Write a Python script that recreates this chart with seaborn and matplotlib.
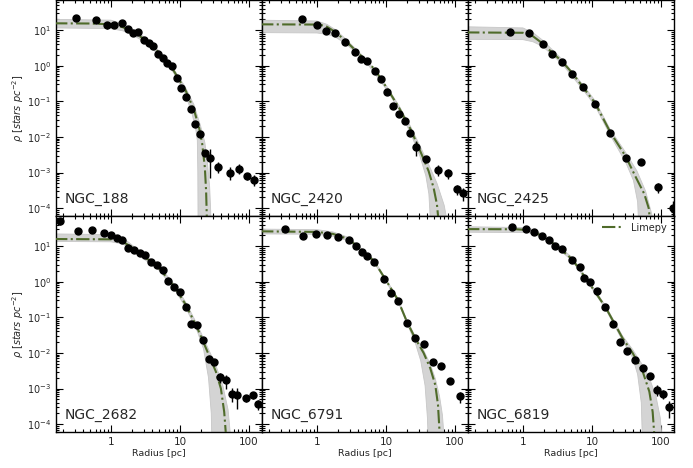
import numpy as np
import matplotlib
matplotlib.use("Agg")
import matplotlib.pyplot as plt
from matplotlib.ticker import FuncFormatter, LogLocator, FixedLocator
import seaborn as sns

# ---- data (radius in pc, surface density in stars pc^-2) ----
names = ["NGC_188", "NGC_2420", "NGC_2425", "NGC_2682", "NGC_6791", "NGC_6819"]

# NGC_188
r_188 = [0.31, 0.60, 0.87, 1.12, 1.44, 1.77, 2.09, 2.50, 2.98, 3.52, 4.09, 4.77, 5.65, 6.55, 7.64,
         8.95, 10.5, 12.2, 14.3, 16.8, 19.6, 22.9, 26.9, 35.9, 52.6, 71.2, 94.2, 118]
rho_188 = [22.2, 19.1, 13.5, 13.5, 15.5, 10.9, 8.07, 8.6, 5.2, 4.38, 3.6, 2.10, 1.65, 1.19, 0.96,
           0.44, 0.24, 0.13, 0.060, 0.0236, 0.0121, 0.0035, 0.0026, 0.00144, 0.00100, 0.00129, 0.00080, 0.00063]
err_188 = [2, 1.5, 3, 1, 1.2, 0.8, 0.6, 0.6, 0.4, 0.3, 0.25, 0.15, 0.12, 0.08, 0.06,
           0.03, 0.02, 0.01, 0.005, 0.002, 0.001, 0.0006, 0.0019, 0.0005, 0.0004, 0.0004, 0.0002, 0.0002]
mod_r_188 = [0.15, 0.5, 1.0, 1.5, 2.0, 3.0, 5.0, 8.0, 12, 16, 19, 21, 23, 24, 24.6, 25]
mod_rho_188 = [15.5, 15.3, 14.5, 12, 9.2, 5.7, 2.3, 0.76, 0.21, 0.058, 0.018, 0.0067, 0.0014, 0.0003, 0.00005, 0.00001]
hi_r_188 = [0.15, 1.0, 1.5, 2.0, 3.0, 5.0, 8.0, 12, 16, 20, 23, 25, 27, 28, 28.5]
hi_rho_188 = [20, 19, 15, 11, 6.5, 2.6, 0.85, 0.25, 0.08, 0.02, 0.007, 0.002, 0.0004, 0.00008, 0.00001]
lo_r_188 = [0.15, 1.0, 1.5, 2.0, 3.0, 5.0, 8.0, 12, 15, 17, 17.9, 18.2, 18.4]
lo_rho_188 = [11.5, 11, 9.5, 7.5, 4.8, 2.0, 0.66, 0.16, 0.045, 0.016, 0.008, 0.001, 0.00001]

# NGC_2420
r_2420 = [0.60, 1.0, 1.35, 1.82, 2.55, 3.52, 4.37, 5.41, 6.9, 8.57, 10.5, 12.6, 15.5, 18.9, 22.7,
          27.6, 38, 56.9, 79.7, 108, 132]
rho_2420 = [20.5, 13.8, 9.55, 8.07, 4.68, 2.44, 1.58, 1.39, 0.71, 0.42, 0.18, 0.076, 0.045, 0.0287, 0.0129,
            0.0053, 0.0024, 0.0012, 0.00095, 0.00034, 0.00026]
err_2420 = [1.5, 1, 0.7, 0.6, 0.35, 0.18, 0.12, 0.1, 0.05, 0.03, 0.013, 0.006, 0.004, 0.003, 0.0015,
            0.0023, 0.0003, 0.0004, 0.0003, 0.0001, 0.0001]
mod_r_2420 = [0.15, 1.09, 1.4, 1.82, 2.55, 3.52, 5.41, 6.9, 10.5, 15.5, 22.7, 31.3, 41.6, 49.2, 55, 58.2, 59]
mod_rho_2420 = [14.5, 14.3, 12.4, 9.0, 5.2, 2.85, 1.27, 0.79, 0.225, 0.066, 0.0166, 0.0041, 0.0011, 0.00037,
                0.000125, 0.00004, 0.00001]
hi_r_2420 = [0.15, 1.0, 1.4, 1.82, 2.55, 3.52, 5.41, 10.5, 15.5, 22.7, 31.3, 41.6, 55, 70, 80, 84]
hi_rho_2420 = [19, 18, 14.5, 10.5, 5.9, 3.2, 1.4, 0.25, 0.075, 0.02, 0.0055, 0.0017, 0.0005, 0.00012, 0.00003, 0.00001]
lo_r_2420 = [0.15, 1.0, 1.4, 1.82, 2.55, 3.52, 5.41, 10.5, 15.5, 22.7, 31.3, 38, 42, 44, 45]
lo_rho_2420 = [8.5, 8.3, 7.6, 6.5, 4.3, 2.5, 1.12, 0.2, 0.057, 0.013, 0.0028, 0.0008, 0.00025, 0.00005, 0.00001]

# NGC_2425
r_2425 = [0.65, 1.23, 1.93, 2.67, 3.65, 5.22, 7.31, 11.1, 18.5, 31, 51.9, 91.8, 148]
rho_2425 = [8.96, 8.07, 4.03, 2.1, 1.30, 0.60, 0.26, 0.085, 0.0132, 0.0025, 0.0020, 0.00038, 0.0001]
err_2425 = [0.7, 0.6, 0.3, 0.15, 0.1, 0.04, 0.02, 0.006, 0.001, 0.0003, 0.0004, 0.00012, 0.00006]
mod_r_2425 = [0.15, 1.0, 1.4, 1.93, 2.67, 3.65, 5.22, 7.31, 11.1, 18.5, 31, 43.4, 57.5, 66.6, 70, 71]
mod_rho_2425 = [8.6, 8.4, 6.7, 4.2, 2.3, 1.35, 0.62, 0.26, 0.09, 0.0135, 0.0028, 0.00073, 0.00025, 0.0001,
                0.00004, 0.00001]
hi_r_2425 = [0.15, 1.0, 1.4, 1.93, 3.65, 7.31, 11.1, 18.5, 31, 45, 60, 75, 83, 85]
hi_rho_2425 = [12.4, 11.5, 8.5, 5.2, 1.55, 0.3, 0.105, 0.016, 0.0036, 0.0011, 0.0003, 0.00006, 0.00002, 0.00001]
lo_r_2425 = [0.15, 1.0, 1.4, 1.93, 3.65, 7.31, 11.1, 18.5, 31, 40, 46, 49]
lo_rho_2425 = [5.5, 5.4, 4.7, 3.5, 1.15, 0.22, 0.075, 0.011, 0.0019, 0.0006, 0.00015, 0.00001]

# NGC_2682
r_2682 = [0.18, 0.33, 0.54, 0.79, 1.0, 1.22, 1.47, 1.78, 2.16, 2.6, 3.16, 3.77, 4.61, 5.65, 6.76,
          8.17, 10, 12.1, 14.7, 17.7, 21.4, 26, 31.4, 38, 46.5, 56.2, 68, 90, 115, 136]
rho_2682 = [50, 27, 28.8, 22.8, 20, 16.4, 15.1, 8.96, 7.55, 6.46, 5.45, 3.6, 2.86, 2.1, 1.05,
            0.69, 0.51, 0.20, 0.063, 0.060, 0.023, 0.0067, 0.0055, 0.0021, 0.0017, 0.00072, 0.00066,
            0.00054, 0.00067, 0.00037]
err_2682 = [12, 4, 3, 2, 1.5, 1.2, 1, 0.6, 0.5, 0.4, 0.35, 0.25, 0.2, 0.15, 0.08,
            0.05, 0.04, 0.015, 0.006, 0.006, 0.002, 0.001, 0.001, 0.0007, 0.0007, 0.0003, 0.0004,
            0.00012, 0.00015, 0.00012]
mod_r_2682 = [0.15, 1.0, 1.5, 2.0, 2.67, 4.68, 8.17, 12.1, 17.9, 25, 33.2, 39.3, 43.9, 46.5, 47.5]
mod_rho_2682 = [15.8, 15.5, 13, 9.5, 5.94, 2.78, 0.76, 0.23, 0.05, 0.011, 0.003, 0.001, 0.00022, 0.00005, 0.00001]
hi_r_2682 = [0.15, 1.0, 1.5, 2.67, 4.68, 8.17, 12.1, 17.9, 25, 33.2, 42, 50, 54, 56]
hi_rho_2682 = [22, 21, 17, 7, 3.2, 0.88, 0.27, 0.062, 0.015, 0.0045, 0.0012, 0.00025, 0.00005, 0.00001]
lo_r_2682 = [0.15, 1.0, 1.5, 2.67, 4.68, 8.17, 12.1, 17.9, 22, 26, 28.5, 29.5]
lo_rho_2682 = [13.5, 13.2, 11.5, 5.0, 2.4, 0.66, 0.19, 0.04, 0.013, 0.002, 0.0002, 0.00001]

# NGC_6791
r_6791 = [0.347, 0.62, 0.98, 1.42, 2.04, 2.89, 3.7, 4.53, 5.41, 6.68, 9.5, 12, 14.8, 20, 26.5,
          35.2, 47.6, 63, 84.4, 119]
rho_6791 = [30.2, 18.8, 22.2, 20.4, 17.6, 14.5, 10.2, 6.9, 5.2, 3.6, 1.19, 0.49, 0.28, 0.068, 0.027,
            0.018, 0.0057, 0.0044, 0.0016, 0.0006]
err_6791 = [2, 1.5, 1.5, 1.2, 1, 0.8, 0.6, 0.4, 0.3, 0.2, 0.07, 0.03, 0.02, 0.005, 0.002,
            0.0013, 0.0005, 0.0004, 0.0002, 0.0002]
mod_r_6791 = [0.15, 1.0, 1.71, 2.89, 4.53, 6.68, 9.5, 14.8, 20, 26.5, 35.2, 44, 52, 56.9, 60.3, 61]
mod_rho_6791 = [26, 25, 22, 15.8, 7.4, 3.85, 1.3, 0.32, 0.078, 0.026, 0.01, 0.0037, 0.00126, 0.00035,
                0.00005, 0.00001]
hi_r_6791 = [0.15, 1.0, 1.71, 2.89, 4.53, 6.68, 9.5, 14.8, 20, 26.5, 35.2, 44, 52, 60, 66, 70, 72]
hi_rho_6791 = [30, 29, 25, 17.5, 8.2, 4.2, 1.4, 0.35, 0.087, 0.03, 0.012, 0.0048, 0.0019, 0.0006, 0.00018,
               0.00004, 0.00001]
lo_r_6791 = [0.15, 1.0, 1.71, 2.89, 4.53, 6.68, 9.5, 14.8, 20, 26.5, 32, 37, 40, 42]
lo_rho_6791 = [22, 21.5, 19, 14, 6.7, 3.5, 1.2, 0.29, 0.07, 0.02, 0.006, 0.0012, 0.00015, 0.00001]

# NGC_6819
r_6819 = [0.69, 1.11, 1.46, 1.86, 2.41, 2.93, 3.65, 5.11, 6.68, 7.74, 9.25, 12, 15.5, 19.9, 25.4,
          32.4, 42.5, 55, 70, 87, 108, 129]
rho_6819 = [33.7, 29.5, 24.3, 19.5, 14.5, 9.8, 8.07, 4.2, 2.55, 1.27, 0.98, 0.54, 0.20, 0.066, 0.020,
            0.011, 0.0064, 0.0038, 0.0022, 0.00092, 0.00072, 0.0003]
err_6819 = [2, 1.5, 1.2, 1, 0.8, 0.6, 0.5, 0.25, 0.15, 0.08, 0.06, 0.03, 0.012, 0.004, 0.0015,
            0.001, 0.0006, 0.0004, 0.0003, 0.0003, 0.0002, 0.00015]
mod_r_6819 = [0.15, 0.8, 1.2, 1.89, 2.95, 5.17, 9.04, 15.8, 27.8, 38.9, 54.5, 68, 76, 80.3, 81]
mod_rho_6819 = [30, 29.7, 28.3, 19.5, 10.9, 4.3, 0.94, 0.19, 0.026, 0.01, 0.003, 0.00082, 0.00022, 0.00005, 0.00001]
hi_r_6819 = [0.15, 1.2, 1.89, 2.95, 5.17, 9.04, 15.8, 27.8, 38.9, 54.5, 70, 85, 98, 105, 108]
hi_rho_6819 = [35, 33, 22, 12, 4.8, 1.05, 0.21, 0.03, 0.0125, 0.0045, 0.0017, 0.0006, 0.00015, 0.00003, 0.00001]
lo_r_6819 = [0.15, 1.2, 1.89, 2.95, 5.17, 9.04, 15.8, 27.8, 38.9, 46, 52, 55]
lo_rho_6819 = [24.5, 24, 17.5, 9.8, 3.9, 0.85, 0.17, 0.022, 0.0075, 0.0025, 0.0004, 0.00001]

x_ticks = [1, 10, 100]
y_ticks = [1e-4, 1e-3, 1e-2, 1e-1, 1e0, 1e1]

panels = [
    (r_188, rho_188, err_188, mod_r_188, mod_rho_188, hi_r_188, hi_rho_188, lo_r_188, lo_rho_188),
    (r_2420, rho_2420, err_2420, mod_r_2420, mod_rho_2420, hi_r_2420, hi_rho_2420, lo_r_2420, lo_rho_2420),
    (r_2425, rho_2425, err_2425, mod_r_2425, mod_rho_2425, hi_r_2425, hi_rho_2425, lo_r_2425, lo_rho_2425),
    (r_2682, rho_2682, err_2682, mod_r_2682, mod_rho_2682, hi_r_2682, hi_rho_2682, lo_r_2682, lo_rho_2682),
    (r_6791, rho_6791, err_6791, mod_r_6791, mod_rho_6791, hi_r_6791, hi_rho_6791, lo_r_6791, lo_rho_6791),
    (r_6819, rho_6819, err_6819, mod_r_6819, mod_rho_6819, hi_r_6819, hi_rho_6819, lo_r_6819, lo_rho_6819),
]

sns.set_style("ticks")
plt.rcParams['font.family'] = ['DejaVu Sans']
plt.rcParams['mathtext.fontset'] = 'dejavusans'

line_col = '#4f6b2a'
band_col = '0.83'

fig, axes = plt.subplots(2, 3, figsize=(6.93, 4.68), dpi=100, sharex=True, sharey=True)
fig.subplots_adjust(left=0.0808, right=0.9726, top=1.0, bottom=0.0769, wspace=0, hspace=0)

for i, ax in enumerate(axes.flat):
    r, rho, err, mr, mrho, hr, hrho, lr, lrho = panels[i]
    ax.set_xscale('log')
    ax.set_yscale('log')

    # spread of model realisations
    ax.fill(list(hr) + list(lr[::-1]), list(hrho) + list(lrho[::-1]),
            color=band_col, lw=0, zorder=1)
    ax.plot(hr, hrho, color='0.78', lw=0.6, zorder=1)
    ax.plot(lr, lrho, color='0.78', lw=0.6, zorder=1)

    # best-fit model
    sns.lineplot(x=mr, y=mrho, ax=ax, sort=False, estimator=None, color=line_col,
                 linestyle='-.', lw=1.5, zorder=3, label='Limepy' if i == 5 else None)

    # observed profile
    ax.errorbar(r, rho, yerr=err, fmt='o', color='black', ms=5, elinewidth=1,
                capsize=0, zorder=4)

    ax.text(0.04, 0.045, names[i], transform=ax.transAxes, fontsize=10,
            ha='left', va='bottom')

    ax.set_xlim(0.16, 155)
    ax.set_ylim(6e-5, 70)
    ax.xaxis.set_major_locator(FixedLocator(x_ticks))
    ax.yaxis.set_major_locator(FixedLocator(y_ticks))
    ax.xaxis.set_minor_locator(LogLocator(base=10, subs=np.arange(2, 10)))
    ax.yaxis.set_minor_locator(LogLocator(base=10, subs=np.arange(2, 10)))
    ax.xaxis.set_major_formatter(FuncFormatter(lambda v, _: f"{v:g}"))
    ax.tick_params(which='both', direction='in', top=True, right=True,
                   color='black', width=0.8)
    ax.tick_params(axis='x', labelsize=7.5)
    ax.tick_params(axis='y', labelsize=7)
    ax.tick_params(which='major', length=5)
    ax.tick_params(which='minor', length=2.5)
    for s in ax.spines.values():
        s.set_color('black')
        s.set_linewidth(1)

    if i % 3 == 0:
        ax.set_ylabel(r'$\rho$ $[stars\ pc^{-2}]$', fontsize=7, labelpad=0.5)
    else:
        ax.set_ylabel('')
    if i >= 3:
        ax.set_xlabel('Radius [pc]', fontsize=6.8, labelpad=1.5)
    else:
        ax.set_xlabel('')

    if i == 5:
        ax.legend(loc='upper right', frameon=False, fontsize=7, handlelength=2.2,
                  borderaxespad=0.3)
    elif ax.get_legend() is not None:
        ax.get_legend().remove()

fig.savefig('out.png', dpi=100)
